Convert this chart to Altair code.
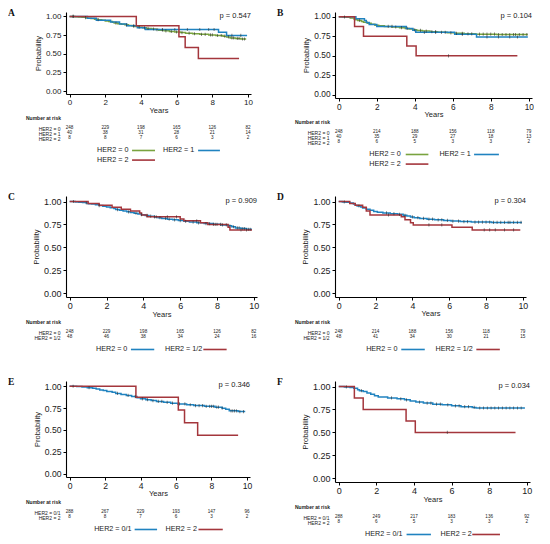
import altair as alt
import pandas as pd

SANS = "Liberation Sans"
SERIF = "Liberation Serif"
GREEN = "#79a33f"
BLUE = "#2083c0"
RED = "#a4363c"
INK = "#1a1a1a"

RISK_YEARS = [0, 2, 4, 6, 8, 10]
X_TICKS = [0, 2, 4, 6, 8, 10]
Y_TICKS = [0.0, 0.25, 0.5, 0.75, 1.0]

# ---------- endpoint of panels A, C, E ----------
E1_H0_T = [0.3, 0.5, 0.7, 0.9, 1.0, 1.2, 1.4, 1.6, 1.8, 2.0, 2.2, 2.4, 2.5, 2.7, 2.9, 3.1, 3.3, 3.5, 3.7, 3.9,
           4.1, 4.3, 4.6, 4.8, 5.0, 5.3, 5.6, 5.9, 6.2, 6.5, 6.9, 7.3, 7.8, 8.2, 8.6, 8.8, 9.0, 9.3, 9.6]
E1_H0_S = [0.996, 0.992, 0.988, 0.984, 0.976, 0.972, 0.964, 0.956, 0.948, 0.94, 0.932, 0.924, 0.912, 0.904,
           0.896, 0.888, 0.88, 0.872, 0.864, 0.856, 0.848, 0.84, 0.832, 0.824, 0.816, 0.808, 0.80, 0.792,
           0.784, 0.776, 0.768, 0.76, 0.752, 0.745, 0.736, 0.725, 0.712, 0.705, 0.698]
E1_H0_END = 9.9
E1_H0_C = [0.2, 0.9, 1.6, 2.6, 3.2, 3.6, 3.9, 4.2, 4.4, 4.7, 4.9, 5.2, 5.4, 5.7, 6.0, 6.3, 6.7, 7.0, 7.4,
           7.6, 7.9, 8.0, 8.3, 8.5, 8.7, 8.9, 9.1, 9.2, 9.4, 9.5, 9.7, 9.8]

E1_H1_T = [1.0, 1.5, 2.3, 2.8, 3.2, 3.8, 4.25, 8.35, 8.8]
E1_H1_S = [0.975, 0.95, 0.925, 0.90, 0.875, 0.85, 0.825, 0.787, 0.746]
E1_H1_END = 9.95
E1_H1_C = [0.2, 3.6, 5.2, 5.9, 6.6, 7.3, 7.8, 8.1, 9.1, 9.6]

E1_H2_T = [3.74, 6.13, 6.48, 7.22]
E1_H2_S = [0.875, 0.729, 0.583, 0.4375]
E1_H2_END = 9.5
E1_H2_C = []

E1_H12_T = [1.0, 1.6, 2.3, 2.8, 3.3, 3.8, 3.9, 4.2, 6.0, 6.2, 7.1, 7.5, 8.6, 8.7]
E1_H12_S = [0.979, 0.958, 0.9375, 0.917, 0.896, 0.875, 0.854, 0.833, 0.81, 0.79, 0.77, 0.75, 0.72, 0.69]
E1_H12_END = 9.9
E1_H12_C = [4.6, 5.3, 5.8, 6.9, 7.8, 8.2, 9.3, 9.6]

E1_H01_T = [0.4, 0.7, 1.0, 1.3, 1.5, 1.7, 1.9, 2.1, 2.4, 2.6, 2.9, 3.2, 3.5, 3.8, 4.0, 4.3, 4.6, 4.9, 5.3,
            5.7, 6.1, 6.6, 7.0, 7.6, 8.2, 8.6, 8.8, 9.0, 9.5]
E1_H01_S = [0.996, 0.992, 0.984, 0.976, 0.968, 0.958, 0.95, 0.94, 0.93, 0.918, 0.906, 0.895, 0.882, 0.868,
            0.856, 0.846, 0.836, 0.826, 0.816, 0.806, 0.797, 0.788, 0.778, 0.77, 0.76, 0.748, 0.735, 0.718, 0.71]
E1_H01_END = 9.9
E1_H01_C = [0.2, 1.1, 2.7, 3.3, 3.7, 4.1, 4.4, 4.7, 5.0, 5.2, 5.5, 5.8, 6.2, 6.5, 6.8, 7.1, 7.3, 7.5, 7.7,
            7.9, 8.0, 8.1, 8.3, 8.4, 8.6, 9.1, 9.2, 9.3, 9.4, 9.6, 9.8]

# ---------- endpoint of panels B, D, F ----------
E2_H0_T = [0.2, 0.4, 0.6, 0.8, 0.9, 1.0, 1.2, 1.3, 1.5, 1.7, 1.9, 2.1, 2.4, 2.8, 3.2, 3.5, 3.7, 3.9, 4.1,
           4.4, 4.8, 5.2, 5.7, 6.1, 6.6, 7.2, 8.3]
E2_H0_S = [0.996, 0.992, 0.984, 0.972, 0.96, 0.952, 0.94, 0.928, 0.916, 0.904, 0.892, 0.884, 0.876, 0.868,
           0.86, 0.85, 0.842, 0.832, 0.824, 0.816, 0.808, 0.80, 0.794, 0.787, 0.781, 0.776, 0.772]
E2_H0_END = 9.95
E2_H0_C = [0.3, 1.1, 2.6, 3.0, 3.3, 3.6, 4.0, 4.3, 4.6, 4.9, 5.1, 5.4, 5.6, 5.9, 6.2, 6.5, 6.8, 7.0, 7.4,
           7.6, 7.8, 8.0, 8.2, 8.4, 8.6, 8.8, 9.0, 9.2, 9.3, 9.5, 9.7, 9.9]

E2_H1_T = [0.9, 1.35, 1.45, 1.6, 2.0, 3.55, 3.9, 4.05, 6.1, 7.25]
E2_H1_S = [0.975, 0.95, 0.925, 0.90, 0.875, 0.85, 0.825, 0.80, 0.775, 0.74]
E2_H1_END = 9.95
E2_H1_C = [2.8, 4.5, 5.1, 6.5, 7.8, 8.4, 9.0, 9.4]

E2_H2_T = [0.83, 1.3, 3.58, 4.07]
E2_H2_S = [0.875, 0.75, 0.625, 0.5]
E2_H2_END = 9.4
E2_H2_C = [5.77]

E2_H12_T = [0.6, 0.9, 1.3, 1.5, 1.7, 3.4, 3.6, 3.9, 4.05, 6.15, 7.25]
E2_H12_S = [0.979, 0.958, 0.9375, 0.896, 0.854, 0.833, 0.80, 0.77, 0.745, 0.72, 0.69]
E2_H12_END = 9.86
E2_H12_C = [2.7, 4.9, 5.6, 7.9, 8.2, 8.5, 9.0, 9.5]

E2_H01_T = [0.3, 0.6, 0.8, 1.0, 1.1, 1.3, 1.5, 1.7, 1.9, 2.1, 2.6, 3.1, 3.5, 3.8, 4.1, 4.5, 5.0, 5.5, 6.0,
            6.5, 7.1, 7.3]
E2_H01_S = [0.996, 0.99, 0.98, 0.965, 0.955, 0.945, 0.93, 0.915, 0.90, 0.885, 0.876, 0.866, 0.855, 0.842,
            0.83, 0.82, 0.808, 0.80, 0.79, 0.78, 0.772, 0.766]
E2_H01_END = 9.9
E2_H01_C = [0.4, 1.2, 2.8, 3.3, 3.6, 4.3, 4.7, 4.9, 5.2, 5.4, 5.8, 6.2, 6.4, 6.7, 6.9, 7.2, 7.5, 7.7, 7.9,
            8.1, 8.3, 8.5, 8.7, 8.9, 9.1, 9.3, 9.5, 9.7]

# ---------- panels ----------
P_VALUES = ["p = 0.547", "p = 0.104", "p = 0.909", "p = 0.304", "p = 0.346", "p = 0.034"]
LETTERS = ["A", "B", "C", "D", "E", "F"]

AB_GROUPS = ["HER2 = 0", "HER2 = 1", "HER2 = 2"]
CD_GROUPS = ["HER2 = 0", "HER2 = 1/2"]
EF_GROUPS = ["HER2 = 0/1", "HER2 = 2"]

A_RISK = [[248, 229, 198, 165, 126, 82], [40, 38, 31, 28, 21, 14], [8, 8, 7, 6, 3, 2]]
B_RISK = [[248, 214, 188, 156, 118, 79], [40, 35, 29, 27, 18, 13], [8, 6, 5, 3, 3, 2]]
C_RISK = [[248, 229, 198, 165, 126, 82], [48, 46, 38, 34, 24, 16]]
D_RISK = [[248, 214, 188, 156, 118, 79], [48, 41, 34, 30, 21, 15]]
E_RISK = [[288, 267, 229, 193, 147, 96], [8, 8, 7, 6, 3, 2]]
F_RISK = [[288, 249, 217, 183, 136, 92], [8, 6, 5, 3, 3, 2]]

CURVES = {
    "E1_H0": (E1_H0_T, E1_H0_S, E1_H0_END, E1_H0_C),
    "E1_H1": (E1_H1_T, E1_H1_S, E1_H1_END, E1_H1_C),
    "E1_H2": (E1_H2_T, E1_H2_S, E1_H2_END, E1_H2_C),
    "E1_H12": (E1_H12_T, E1_H12_S, E1_H12_END, E1_H12_C),
    "E1_H01": (E1_H01_T, E1_H01_S, E1_H01_END, E1_H01_C),
    "E2_H0": (E2_H0_T, E2_H0_S, E2_H0_END, E2_H0_C),
    "E2_H1": (E2_H1_T, E2_H1_S, E2_H1_END, E2_H1_C),
    "E2_H2": (E2_H2_T, E2_H2_S, E2_H2_END, E2_H2_C),
    "E2_H12": (E2_H12_T, E2_H12_S, E2_H12_END, E2_H12_C),
    "E2_H01": (E2_H01_T, E2_H01_S, E2_H01_END, E2_H01_C),
}

PANELS = [
    dict(groups=AB_GROUPS, curves=["E1_H0", "E1_H1", "E1_H2"], colors=[GREEN, BLUE, RED], risk=A_RISK),
    dict(groups=AB_GROUPS, curves=["E2_H0", "E2_H1", "E2_H2"], colors=[GREEN, BLUE, RED], risk=B_RISK),
    dict(groups=CD_GROUPS, curves=["E1_H0", "E1_H12"], colors=[BLUE, RED], risk=C_RISK),
    dict(groups=CD_GROUPS, curves=["E2_H0", "E2_H12"], colors=[BLUE, RED], risk=D_RISK),
    dict(groups=EF_GROUPS, curves=["E1_H01", "E1_H2"], colors=[BLUE, RED], risk=E_RISK),
    dict(groups=EF_GROUPS, curves=["E2_H01", "E2_H2"], colors=[BLUE, RED], risk=F_RISK),
]

# layout only (sizes, fonts, legend placement as fractions of panel width)
SIZES = [(185, 82, 8.0), (197, 86, 8.3), (191, 101, 9.0), (191, 101, 8.8), (184, 96, 8.6), (195, 101, 9.0)]
LEG_POS = [
    [(0, 0.168, 0.357, 0.481), (0, 0.524, 0.714, 0.832), (1, 0.168, 0.357, 0.481)],
    [(0, 0.174, 0.359, 0.474), (0, 0.530, 0.706, 0.832), (1, 0.174, 0.359, 0.474)],
    [(0, 0.157, 0.340, 0.462), (0, 0.518, 0.719, 0.841)],
    [(0, 0.163, 0.347, 0.470), (0, 0.526, 0.740, 0.863)],
    [(0, 0.153, 0.373, 0.495), (0, 0.541, 0.720, 0.852)],
    [(0, 0.154, 0.367, 0.492), (0, 0.541, 0.704, 0.846)],
]
XDOM = [-0.2, 10.17]
YDOM = [-0.04, 1.06]


def step_value(times, survs, t):
    v = 1.0
    for ti, si in zip(times, survs):
        if ti <= t:
            v = si
    return v


def km_chart(i):
    p = PANELS[i]
    w, h, fs = SIZES[i]
    xs = alt.Scale(domain=XDOM, nice=False, zero=False)
    ys = alt.Scale(domain=YDOM, nice=False, zero=False)
    xax = alt.Axis(values=X_TICKS, format="d", title="Years", labelFontSize=fs, titleFontSize=7.5,
                   tickSize=3, labelPadding=1, titlePadding=0, labelFlush=False, grid=False)
    yax = alt.Axis(values=Y_TICKS, format=".2f", title="Probability", labelFontSize=fs, titleFontSize=7.5,
                   tickSize=3, labelPadding=2, titlePadding=3, labelFlush=False, grid=False)
    X = alt.X("t:Q", scale=xs, axis=xax)
    Y = alt.Y("s:Q", scale=ys, axis=yax)
    layers = []
    tick_layers = []
    for key, col in zip(p["curves"], p["colors"]):
        T, S, end, C = CURVES[key]
        pts = [(0.0, 1.0)] + list(zip(T, S)) + [(end, S[-1])]
        df = pd.DataFrame(pts, columns=["t", "s"])
        layers.append(alt.Chart(df).mark_line(interpolate="step-after", strokeWidth=1.5, color=col)
                      .encode(x=X, y=Y))
        if C:
            cdf = pd.DataFrame({"t": C, "s": [step_value(T, S, c) for c in C]})
            tick_layers.append(alt.Chart(cdf).mark_tick(orient="vertical", size=3.2, thickness=0.8,
                                                        color="#2a2a2a").encode(x=X, y=Y))
    ptxt = alt.Chart(pd.DataFrame({"t": [XDOM[1]], "s": [1.01], "lab": [P_VALUES[i]]})).mark_text(
        align="right", baseline="middle", fontSize=7.5, font=SANS, color=INK).encode(x=X, y=Y, text="lab:N")
    letter = alt.Chart(pd.DataFrame({"lab": [LETTERS[i]]})).mark_text(
        align="left", baseline="alphabetic", font=SERIF, fontWeight="bold", fontSize=9.5, color="#111").encode(
        x=alt.value(-58), y=alt.value(4), text="lab:N")
    return alt.layer(*layers, *tick_layers, ptxt, letter).properties(width=w, height=h)


def risk_chart(i):
    p = PANELS[i]
    w, h, fs = SIZES[i]
    rows = []
    for lab, nums in zip(p["groups"], p["risk"]):
        for yr, n in zip(RISK_YEARS, nums):
            rows.append(dict(lab=lab, t=yr, n=str(n)))
    df = pd.DataFrame(rows)
    return alt.Chart(df).mark_text(fontSize=4.6, font=SANS, color=INK).encode(
        x=alt.X("t:Q", scale=alt.Scale(domain=XDOM, nice=False, zero=False), axis=None),
        y=alt.Y("lab:N", sort=p["groups"], scale=alt.Scale(type="point", padding=0.5),
                axis=alt.Axis(title=None, domain=False, ticks=False, labelFontSize=5, labelPadding=6,
                              labelColor=INK, labelFont=SANS)),
        text="n:N",
    ).properties(width=w, height=5 * len(p["groups"]),
                 title=alt.TitleParams("Number at risk", anchor="start", frame="group", dx=-40, fontSize=5,
                                       fontWeight="bold", offset=4, color=INK, font=SANS))


def legend_chart(i):
    p = PANELS[i]
    w, h, fs = SIZES[i]
    pos = LEG_POS[i]
    nrows = max(r for r, _, _, _ in pos) + 1
    lh = 7.5 + (nrows - 1) * 9.6 + 4
    ydom = [lh / 9.6 - 0.78, -0.78]
    xs = alt.Scale(domain=[0, 1], nice=False, zero=False)
    ys = alt.Scale(domain=ydom, nice=False, zero=False)
    df = pd.DataFrame([dict(lab=g, row=r, tx=tx, l1=l1, l2=l2)
                       for g, (r, tx, l1, l2) in zip(p["groups"], pos)])
    txt = alt.Chart(df).mark_text(align="left", baseline="middle", fontSize=7.2, font=SANS, color=INK).encode(
        x=alt.X("tx:Q", scale=xs, axis=None), y=alt.Y("row:Q", scale=ys, axis=None), text="lab:N")
    rules = []
    for k, col in enumerate(p["colors"]):
        rules.append(alt.Chart(df.iloc[[k]]).mark_rule(strokeWidth=1.6, color=col).encode(
            x=alt.X("l1:Q", scale=xs, axis=None), x2="l2:Q", y=alt.Y("row:Q", scale=ys, axis=None)))
    return alt.layer(txt, *rules).properties(width=w, height=lh)


cells = []
for i in range(6):
    cells.append(alt.vconcat(km_chart(i), risk_chart(i), legend_chart(i), spacing=1.5)
                 .resolve_scale(x="independent", y="independent"))

chart = alt.concat(*cells, columns=2, spacing={"row": 23, "column": 18}, padding=0).configure_view(
    stroke=None
).configure_axis(
    domainColor="black", domainWidth=1.1, tickColor="black", tickWidth=1, labelColor=INK, titleColor=INK,
    labelFont=SANS, titleFont=SANS, titleFontWeight="normal"
).configure_title(font=SANS, color=INK)

chart.save("out.html", embed_options={"renderer": "svg", "actions": False})
